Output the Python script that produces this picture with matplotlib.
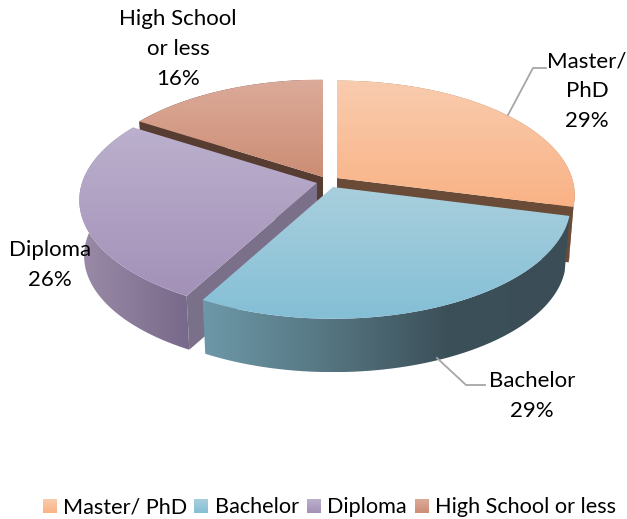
import numpy as np
import matplotlib
matplotlib.use("Agg")
import matplotlib.pyplot as plt
from matplotlib.patches import Polygon
from matplotlib.colors import LinearSegmentedColormap

plt.rcParams['font.family'] = ['Lato', 'DejaVu Sans']

# dados
categories = ["Master/ PhD", "Bachelor", "Diploma", "High School or less"]
values = [29, 29, 26, 16]
label_names = ["Master/\nPhD", "Bachelor", "Diploma", "High School\nor less"]

# cores: topo (claro, escuro), lateral (esq -> dir), corte
top_colors = [("#f8ccae", "#fab285"), ("#a9cfdd", "#84bfd6"), ("#bbb0cd", "#a391b8"), ("#dcab9a", "#cc8d74")]
rim_colors = [("#b07a50", "#b07a50"), ("#6d98a8", "#567682", "#3c5059", "#3b4e57"), ("#9a8ca8", "#78698a"), ("#6b4a3c", "#6b4a3c")]
cut_colors = ["#694b38", "#3b4e57", "#7b7089", "#573c31"]

# geometria do disco em pixels
apex = [(337, 178), (333, 187), (317, 183), (323, 177)]
RX, RY, K = 235, 112, 0.15
DEPTH, SHRINK = 56, 0.98
label_pos = [(587, 91), (532, 396), (50, 265), (178, 49)]
legend_sq = [43, 194, 307, 415]
legend_txt = [63, 215, 327, 435]
FONT = 16
LEGEND_FONT = 15.6


def project(theta, ax0, ay0, bottom=False):
    # theta em sentido horario a partir do topo
    u, v = np.sin(theta), np.cos(theta)
    x = RX * u / (1 + K * v)
    y = -RY * v / (1 + K * v)
    if bottom:
        return ax0 + SHRINK * x, ay0 + SHRINK * y + DEPTH
    return ax0 + x, ay0 + y


def gradient_fill(ax, pts, colors, vertical=True, zorder=1):
    pts = np.asarray(pts)
    poly = Polygon(pts, closed=True, transform=ax.transData, fc="none", ec="none")
    ax.add_patch(poly)
    cmap = LinearSegmentedColormap.from_list("g", list(colors))
    ramp = np.linspace(0, 1, 256)
    x0, x1 = pts[:, 0].min(), pts[:, 0].max()
    y0, y1 = pts[:, 1].min(), pts[:, 1].max()
    data = ramp.reshape(-1, 1) if vertical else ramp.reshape(1, -1)
    im = ax.imshow(data, cmap=cmap, extent=(x0, x1, y1, y0), origin="upper",
                   aspect="auto", zorder=zorder, interpolation="bilinear")
    im.set_clip_path(poly)


fig = plt.figure(figsize=(6.27, 5.19), dpi=100)
ax = fig.add_axes([0, 0, 1, 1])

fractions = np.array(values) / sum(values)
edges = np.concatenate([[0], np.cumsum(fractions)]) * 2 * np.pi

# de tras para frente
z = 1
for i in [3, 0, 2, 1]:
    a, b = edges[i], edges[i + 1]
    ax0, ay0 = apex[i]
    t = np.linspace(a, b, 200)
    tx, ty = project(t, ax0, ay0)
    bx, by = project(t, ax0, ay0, bottom=True)

    # lateral
    rim = np.column_stack([np.r_[tx, bx[::-1]], np.r_[ty, by[::-1]]])
    gradient_fill(ax, rim, rim_colors[i], vertical=False, zorder=z)
    z += 1

    # faces de corte viradas para a frente
    for th, vis in [(a, np.sin(a) < -1e-6), (b, np.sin(b) > 1e-6)]:
        if vis:
            px, py = project(th, ax0, ay0)
            qx, qy = project(th, ax0, ay0, bottom=True)
            ax.add_patch(Polygon([(ax0, ay0), (px, py), (qx, qy), (ax0, ay0 + DEPTH)],
                                 closed=True, fc=cut_colors[i], ec="none", zorder=z))
    z += 1

    # topo
    top = np.column_stack([np.r_[ax0, tx], np.r_[ay0, ty]])
    gradient_fill(ax, top, top_colors[i], zorder=z)
    z += 1

# linhas de chamada
ax.plot([508, 533, 546], [115, 68, 68], color="#a6a6a6", lw=1.3, zorder=z)
ax.plot([437, 466, 485], [358, 385, 385], color="#a6a6a6", lw=1.3, zorder=z)

# rotulos
for name, val, (lx, ly) in zip(label_names, values, label_pos):
    ax.text(lx, ly, f"{name}\n{val}%", ha="center", va="center", fontsize=FONT,
            color="black", linespacing=1.62, zorder=z + 1)

# legenda
for i, name in enumerate(categories):
    sq = [(legend_sq[i], 499), (legend_sq[i] + 14, 499), (legend_sq[i] + 14, 513), (legend_sq[i], 513)]
    gradient_fill(ax, sq, top_colors[i], zorder=z)
    ax.text(legend_txt[i], 513, name, ha="left", va="baseline", fontsize=LEGEND_FONT, color="black")

ax.set_xlim(0, 627)
ax.set_ylim(519, 0)
ax.axis("off")
fig.savefig("out.png", dpi=100, facecolor="white")
plt.close()
